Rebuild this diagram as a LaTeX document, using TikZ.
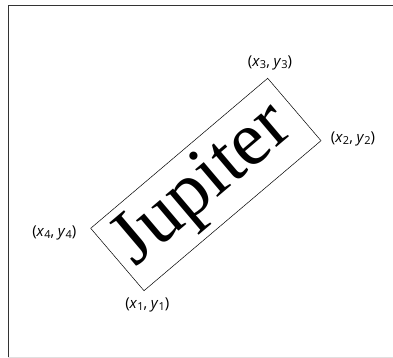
\documentclass[tikz,border=0pt]{standalone}
\usepackage{fontspec}
\setmainfont{Liberation Serif}
\newfontfamily\labelfont{Open Sans}
\newcommand{\lsub}[1]{\raisebox{-0.3ex}{\fontsize{11}{12}\selectfont\upshape #1}}
\newcommand{\pt}[1]{(\textit{x}\lsub{#1},\hspace{0.25em}\textit{y}\lsub{#1})}
\begin{document}
\begin{tikzpicture}[x=1pt,y=-1pt,
  lbl/.style={font=\labelfont\fontsize{15}{16}\selectfont, inner sep=0pt},
  big/.style={font=\fontsize{77}{77}\selectfont, inner sep=0pt, rotate=40.3}]
\useasboundingbox (0,0) rectangle (393,358);
\draw[line width=1pt, black!80] (8,358) -- (8,5.5) -- (393,5.5);
\draw[line width=0.8pt, black!12] (8,357) -- (393,357);
\coordinate (c1) at (144,290.7);
\coordinate (c2) at (321,140.7);
\coordinate (c3) at (267.7,78.3);
\coordinate (c4) at (90.7,228.3);
\draw[line width=0.5pt] (c1) -- (c2) -- (c3) -- (c4) -- cycle;
\node[big] (jup) at (204,187) {Jupiter};
\node[lbl] (l3) at (270,63) {\pt{3}};
\node[lbl] (l2) at (353,139) {\pt{2}};
\node[lbl] (l4) at (54.3,233) {\pt{4}};
\node[lbl] (l1) at (147.3,305) {\pt{1}};
\end{tikzpicture}
\end{document}
